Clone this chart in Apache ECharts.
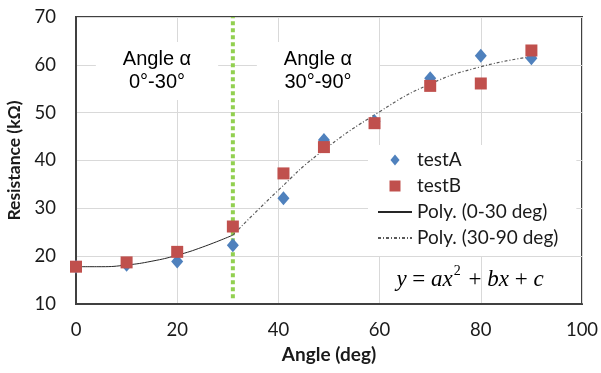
<!DOCTYPE html>
<html>
<head>
<meta charset="utf-8">
<script src="https://cdn.jsdelivr.net/npm/echarts@6/dist/echarts.min.js"></script>
<style>
	html, body { margin: 0; padding: 0; background: #fff; }
	#chart { width: 601px; height: 373px; }
</style>
</head>
<body>
<div id="chart"></div>
<script>
var angles = [0, 10, 20, 31, 41, 49, 59, 70, 80, 90];
var testA = [17.8, 18.2, 18.9, 22.3, 32.1, 44.3, 48.2, 57.2, 61.9, 61.4];
var testB = [17.8, 18.7, 20.9, 26.2, 37.3, 42.8, 47.8, 55.6, 56.1, 63.0];

// trend lines
var polyLowX = [0, 5, 10, 15, 20, 25, 31];
var polyLowY = [17.8, 17.8, 18.15, 18.95, 20.2, 21.9, 24.4];
var polyHighX = [31, 40, 48, 60, 70, 80, 90];
var polyHighY = [24.4, 33.8, 41.4, 50.2, 56.0, 59.6, 61.7];

var dividerAngle = 31;
var dividerRange = [11.2, 70];

var xTicks = [0, 100, 20];
var yTicks = [10, 70, 10];

function pairs(xs, ys){
	return xs.map(function(x, i){ return [x, ys[i]]; });
}

var chart = echarts.init(document.getElementById('chart'));
var font = 'Lato, "Open Sans", sans-serif';
var noDot = {opacity: 0, borderWidth: 0};
var option = {
	animation: false,
	grid: {
		left: 76,
		right: 19,
		top: 17,
		bottom: 69,
		show: true,
		borderColor: '#404040',
		borderWidth: 2,
		outerBoundsMode: 'none',
	},
	legend: {
		orient: 'vertical',
		left: 368,
		top: 145,
		padding: [5, 18, 8, 9],
		backgroundColor: '#fff',
		itemWidth: 34,
		itemHeight: 11,
		itemGap: 6,
		textStyle: {
			fontFamily: font,
			fontSize: 19,
			color: '#1a1a1a',
			lineHeight: 20,
		},
		data: [
			{name: 'testA', icon: 'path://M5,0L10,6L5,12L0,6Z'},
			{name: 'testB', icon: 'path://M0,0L10,0L10,10L0,10Z'},
			{name: 'Poly. (0-30 deg)', itemStyle: noDot},
			{name: 'Poly. (30-90 deg)', itemStyle: noDot},
		],
	},
	xAxis: {
		type: 'value',
		min: xTicks[0],
		max: xTicks[1],
		interval: xTicks[2],
		name: 'Angle (deg)',
		nameLocation: 'middle',
		nameGap: 41,
		nameTextStyle: {
			fontFamily: font,
			fontSize: 19,
			fontWeight: 'bold',
			color: '#1a1a1a',
		},
		axisLine: {lineStyle: {color: '#404040', width: 2}},
		axisTick: {show: false},
		axisLabel: {fontFamily: font, fontSize: 18.5, color: '#1a1a1a', margin: 17},
		splitLine: {lineStyle: {color: '#d9d9d9', width: 1}},
	},
	yAxis: {
		type: 'value',
		min: yTicks[0],
		max: yTicks[1],
		interval: yTicks[2],
		name: 'Resistance (kΩ)',
		nameLocation: 'middle',
		nameGap: 47,
		nameTextStyle: {
			fontFamily: font,
			fontSize: 17.5,
			fontWeight: 'bold',
			color: '#1a1a1a',
		},
		axisLine: {lineStyle: {color: '#404040', width: 2}},
		axisTick: {show: false},
		axisLabel: {fontFamily: font, fontSize: 18.5, color: '#1a1a1a', margin: 20},
		splitLine: {lineStyle: {color: '#d9d9d9', width: 1}},
	},
	graphic: [
		{
			type: 'text',
			x: 157,
			y: 71,
			z: 10,
			style: {
				text: 'Angle α\n0°-30°',
				fontFamily: '"Liberation Sans", Arial, sans-serif',
				fontSize: 20,
				lineHeight: 23,
				fill: '#000',
				align: 'center',
				verticalAlign: 'middle',
				backgroundColor: '#fff',
				padding: [6, 27],
			},
		},
		{
			type: 'text',
			x: 318,
			y: 71,
			z: 10,
			style: {
				text: 'Angle α\n30°-90°',
				fontFamily: '"Liberation Sans", Arial, sans-serif',
				fontSize: 20,
				lineHeight: 23,
				fill: '#000',
				align: 'center',
				verticalAlign: 'middle',
				backgroundColor: '#fff',
				padding: [6, 27],
			},
		},
		{
			type: 'text',
			x: 470,
			y: 278,
			z: 10,
			style: {
				text: '{i|y}{n| = }{i|ax}{s|2}{n| + }{i|bx}{n| + }{i|c}',
				align: 'center',
				verticalAlign: 'middle',
				fill: '#000',
				rich: {
					i: {fontFamily: '"Liberation Serif", serif', fontStyle: 'italic', fontSize: 23, lineHeight: 27, verticalAlign: 'bottom'},
					n: {fontFamily: '"Liberation Serif", serif', fontSize: 23, lineHeight: 27, verticalAlign: 'bottom'},
					s: {fontFamily: '"Liberation Serif", serif', fontSize: 14, lineHeight: 27, verticalAlign: 'top', padding: [0, 2, 0, 1]},
				},
			},
		},
	],
	series: [
		{
			name: 'divider',
			type: 'line',
			silent: true,
			symbol: 'none',
			z: 1,
			data: [[dividerAngle, dividerRange[0]], [dividerAngle, dividerRange[1]]],
			lineStyle: {color: '#92d050', width: 4, type: [4, 3]},
		},
		{
			name: 'Poly. (0-30 deg)',
			type: 'line',
			symbol: 'none',
			smooth: true,
			z: 2,
			data: pairs(polyLowX, polyLowY),
			itemStyle: {color: '#262626'},
			lineStyle: {color: '#262626', width: 1},
		},
		{
			name: 'Poly. (30-90 deg)',
			type: 'line',
			symbol: 'none',
			smooth: true,
			z: 2,
			data: pairs(polyHighX, polyHighY),
			itemStyle: {color: '#595959'},
			lineStyle: {color: '#595959', width: 1.2, type: [3, 2, 1, 2]},
		},
		{
			name: 'testA',
			type: 'scatter',
			symbol: 'diamond',
			symbolSize: [12, 14],
			z: 3,
			data: pairs(angles, testA),
			itemStyle: {color: '#4f81bd', opacity: 1},
		},
		{
			name: 'testB',
			type: 'scatter',
			symbol: 'rect',
			symbolSize: 12,
			z: 4,
			data: pairs(angles, testB),
			itemStyle: {color: '#c0504d', opacity: 1},
		},
	]
};
chart.setOption(option);
window.addEventListener('resize', function(){
	chart.resize();
});
</script>
</body>
</html>
